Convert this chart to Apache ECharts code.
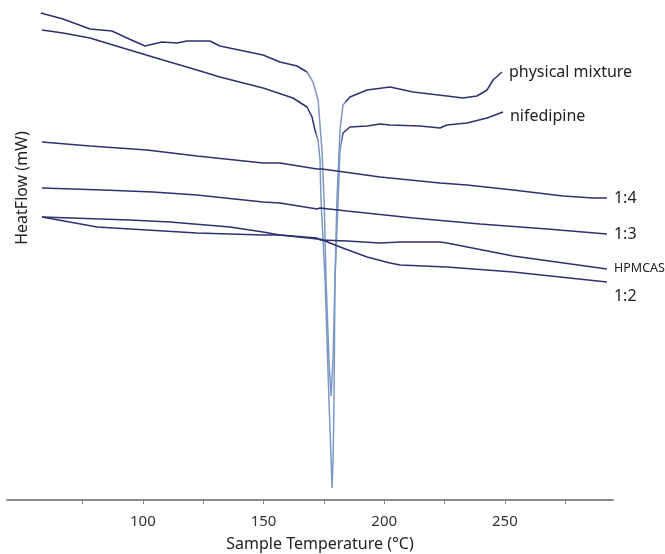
<!doctype html>
<html lang="en">
<head>
  <meta charset="UTF-8">
  <title>DSC thermograms</title>
  <style>
    html, body { margin: 0; padding: 0; background: #fff; }
    #chart { width: 665px; height: 554px; }
  </style>
  <script src="https://cdn.jsdelivr.net/npm/echarts@6/dist/echarts.min.js"></script>
</head>
<body>
  <div id="chart"></div>
  <script>
    // temperature (°C), heat flow (arbitrary mW offset)
    var physMix = [
      [57.7, 48.7], [66.9, 48.1], [78.1, 47.1], [87.2, 46.9], [93.4, 46.2], [100.9, 45.4],
      [107.9, 45.8], [114.1, 45.7], [118.3, 45.9], [127.8, 45.9], [131.9, 45.4], [149.8, 44.5],
      [156.8, 43.8], [163.9, 43.4], [168.0, 42.8], [170.5, 41.8], [172.6, 40.0], [174.2, 35.0],
      [175.1, 30.0], [175.9, 22.0], [177.1, 14.0], [178.0, 10.4], [178.8, 14.0], [179.6, 22.0],
      [180.4, 30.0], [181.7, 37.0], [182.9, 39.5], [185.8, 40.3], [192.9, 41.0], [202.4, 41.3],
      [212.0, 40.8], [219.0, 40.6], [226.0, 40.4], [232.6, 40.2], [238.4, 40.4], [242.6, 41.0],
      [245.1, 42.0], [248.8, 42.8]
    ];
    var nifedipine = [
      [58.2, 47.0], [66.9, 46.7], [78.1, 46.2], [87.6, 45.5], [108.3, 44.0], [122.4, 43.0],
      [131.9, 42.3], [149.8, 41.2], [162.2, 40.2], [168.0, 39.3], [170.1, 38.3], [171.3, 37.0],
      [172.6, 36.0], [173.4, 34.0], [173.8, 30.0], [175.5, 22.0], [177.1, 10.0], [178.0, 4.0],
      [178.4, 1.2], [178.8, 4.0], [179.2, 10.0], [179.6, 22.0], [180.9, 30.0], [181.7, 35.0],
      [182.9, 36.7], [185.8, 37.3], [192.9, 37.4], [198.3, 37.6], [202.4, 37.5], [214.8, 37.4],
      [223.1, 37.2], [226.0, 37.5], [234.3, 37.7], [242.6, 38.2], [249.2, 38.8]
    ];
    var ratio14 = [
      [58.2, 35.8], [78.1, 35.4], [101.7, 35.0], [122.4, 34.4], [149.8, 33.7], [156.8, 33.7],
      [172.2, 33.1], [174.2, 33.1], [180.4, 32.9], [198.3, 32.3], [223.1, 31.7], [234.3, 31.5],
      [253.4, 31.0], [274.1, 30.4], [286.5, 30.2], [292.3, 30.2]
    ];
    var ratio13 = [
      [58.2, 31.2], [83.4, 31.0], [104.2, 30.8], [122.4, 30.5], [149.8, 29.8], [156.8, 29.7],
      [172.2, 29.1], [173.4, 29.2], [184.6, 28.9], [212.0, 28.2], [239.7, 27.6], [267.5, 27.1],
      [292.3, 26.6]
    ];
    var hpmcas = [
      [58.2, 28.3], [94.6, 28.0], [111.2, 27.8], [136.1, 27.3], [149.8, 26.8], [156.8, 26.5],
      [172.2, 26.2], [173.4, 26.0], [184.6, 25.9], [198.3, 25.7], [206.6, 25.8], [223.1, 25.8],
      [226.0, 25.7], [253.4, 24.4], [292.3, 23.1]
    ];
    var ratio12 = [
      [58.2, 28.3], [81.0, 27.3], [101.7, 27.0], [122.4, 26.7], [149.8, 26.5], [156.8, 26.5],
      [172.2, 26.1], [173.4, 26.1], [181.7, 25.3], [192.9, 24.3], [202.4, 23.7], [206.6, 23.5],
      [226.0, 23.3], [253.4, 22.8], [292.3, 21.8]
    ];
    var tickValues = [75, 100, 125, 150, 175, 200, 225, 250, 275];
    var labelValues = [100, 150, 200, 250];

    var dark = '#2d3170';
    var light = '#7b97c4';
    var font = 'Noto Sans';

    // steep melting part drawn lighter, like the thin strokes in the scan
    function dipColor(x0, x1) {
      var a = x0 / 665, b = x1 / 665;
      return new echarts.graphic.LinearGradient(0, 0, 665, 0, [
        { offset: 0, color: dark },
        { offset: a - 0.004, color: dark },
        { offset: a, color: light },
        { offset: b, color: light },
        { offset: b + 0.004, color: dark },
        { offset: 1, color: dark }
      ], true);
    }

    function curve(name, data, offset, extra) {
      var s = {
        name: name,
        type: 'line',
        data: data,
        symbol: 'none',
        silent: true,
        lineStyle: { color: dark, width: 1.5 },
        endLabel: {
          show: true,
          formatter: name,
          color: '#222',
          fontFamily: font,
          fontSize: 16,
          distance: 7,
          offset: offset
        }
      };
      if (extra) Object.assign(s.endLabel, extra);
      return s;
    }

    var myChart = echarts.init(document.getElementById('chart'));

    var s0 = curve('physical mixture', physMix, [0, 0]);
    s0.lineStyle.color = dipColor(308, 344);
    var s1 = curve('nifedipine', nifedipine, [0, 4]);
    s1.lineStyle.color = dipColor(318, 341);

    var option = {
      backgroundColor: '#fff',
      animation: false,
      grid: { left: 7, right: 52, top: 10, bottom: 54, outerBoundsMode: 'none' },
      xAxis: {
        type: 'value',
        min: 43.7,
        max: 294.8,
        name: 'Sample Temperature (°C)',
        nameLocation: 'middle',
        nameGap: 36,
        nameTextStyle: { color: '#222', fontFamily: font, fontSize: 16, padding: [0, 0, 0, 20] },
        axisLine: { lineStyle: { color: '#8a8a8a', width: 2 } },
        axisTick: { show: true, customValues: tickValues, length: 4, lineStyle: { color: '#8a8a8a' } },
        axisLabel: { customValues: labelValues, color: '#333', fontFamily: font, fontSize: 15, margin: 14 },
        splitLine: { show: false }
      },
      yAxis: {
        type: 'value',
        min: 0,
        max: 49,
        axisLine: { show: false },
        axisTick: { show: false },
        axisLabel: { show: false },
        splitLine: { show: false }
      },
      graphic: [{
        type: 'text',
        x: 22,
        y: 188,
        rotation: Math.PI / 2,
        style: {
          text: 'HeatFlow (mW)',
          fill: '#222',
          font: '16px "Noto Sans"',
          align: 'center',
          verticalAlign: 'middle'
        }
      }],
      series: [
        s0,
        s1,
        curve('1:4', ratio14, [0, 0]),
        curve('1:3', ratio13, [0, 0]),
        curve('HPMCAS', hpmcas, [0, -1], { fontSize: 12.5 }),
        curve('1:2', ratio12, [0, 14])
      ]
    };
    myChart.setOption(option);
  </script>
</body>
</html>
